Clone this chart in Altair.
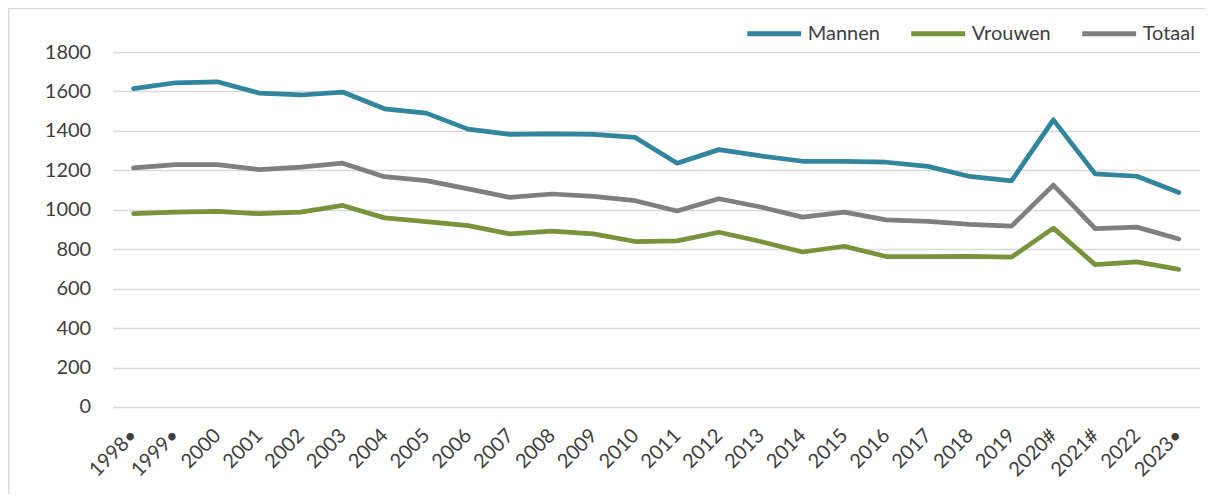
import altair as alt
import pandas as pd

years = ["1998•", "1999•", "2000", "2001", "2002", "2003", "2004", "2005", "2006",
         "2007", "2008", "2009", "2010", "2011", "2012", "2013", "2014", "2015",
         "2016", "2017", "2018", "2019", "2020#", "2021#", "2022", "2023•"]
mannen = [1614, 1644, 1649, 1592, 1582, 1597, 1512, 1490, 1409, 1382, 1385, 1382, 1367,
          1236, 1305, 1273, 1246, 1246, 1241, 1220, 1169, 1147, 1456, 1182, 1170, 1088]
vrouwen = [980, 988, 992, 980, 988, 1022, 959, 940, 920, 878, 892, 878, 839,
           842, 886, 839, 786, 815, 763, 763, 764, 760, 907, 722, 736, 698]
totaal = [1212, 1229, 1229, 1204, 1216, 1236, 1168, 1148, 1106, 1063, 1080, 1068, 1046,
          994, 1056, 1014, 963, 988, 949, 941, 926, 917, 1125, 905, 912, 852]
series = ["Mannen", "Vrouwen", "Totaal"]
colors = ["#31859C", "#77933C", "#7F7F7F"]
y_ticks = [0, 200, 400, 600, 800, 1000, 1200, 1400, 1600, 1800]

rows = []
for name, vals in zip(series, [mannen, vrouwen, totaal]):
    for yr, v in zip(years, vals):
        rows.append({"jaar": yr, "serie": name, "waarde": v})
df = pd.DataFrame(rows)

W, H = 1087, 355
FONT = "Lato"
TXT = "#404040"
GRID = "#D9D9D9"

lines = alt.Chart(df).mark_line(
    strokeWidth=4.75, strokeCap="round", strokeJoin="round"
).encode(
    x=alt.X("jaar:N", sort=years,
            scale=alt.Scale(type="point", padding=0.5),
            axis=alt.Axis(title=None, labelAngle=-45, labelAlign="right",
                          labelBaseline="middle", labelPadding=25, ticks=False,
                          domain=False, grid=False, labelFontSize=20,
                          labelFont=FONT, labelColor=TXT, labelOverlap=False)),
    y=alt.Y("waarde:Q", scale=alt.Scale(domain=[0, 1800], nice=False),
            axis=alt.Axis(title=None, values=y_ticks, format="d", ticks=False,
                          domain=False, gridColor=GRID, gridWidth=1.4,
                          labelPadding=22, labelFontSize=20, labelFont=FONT,
                          labelColor=TXT)),
    color=alt.Color("serie:N", sort=series,
                    scale=alt.Scale(domain=series, range=colors),
                    legend=alt.Legend(title=None, orient="none", legendX=632,
                                      legendY=-48, direction="horizontal",
                                      symbolType="stroke", symbolSize=2900,
                                      symbolStrokeWidth=5, labelFontSize=20,
                                      labelFont=FONT, labelColor=TXT,
                                      columnPadding=20, labelOffset=4, padding=0)),
)

frame = pd.DataFrame({"a": [0]})
left_edge = alt.Chart(frame).mark_rule(color=GRID, strokeWidth=1.5).encode(
    x=alt.value(-104), y=alt.value(-44), y2=alt.value(H + 200))
top_edge = alt.Chart(frame).mark_rule(color=GRID, strokeWidth=1.5).encode(
    x=alt.value(-104), x2=alt.value(W + 200), y=alt.value(-43.5))

chart = alt.layer(left_edge, top_edge, lines).properties(
    width=W, height=H,
    autosize=alt.AutoSizeParams(type="none"),
    padding={"left": 104.7, "top": 44, "right": 5, "bottom": 87},
    background="white",
).configure_view(stroke=None)

chart.save("out.html", embed_options={"renderer": "svg", "actions": False})
